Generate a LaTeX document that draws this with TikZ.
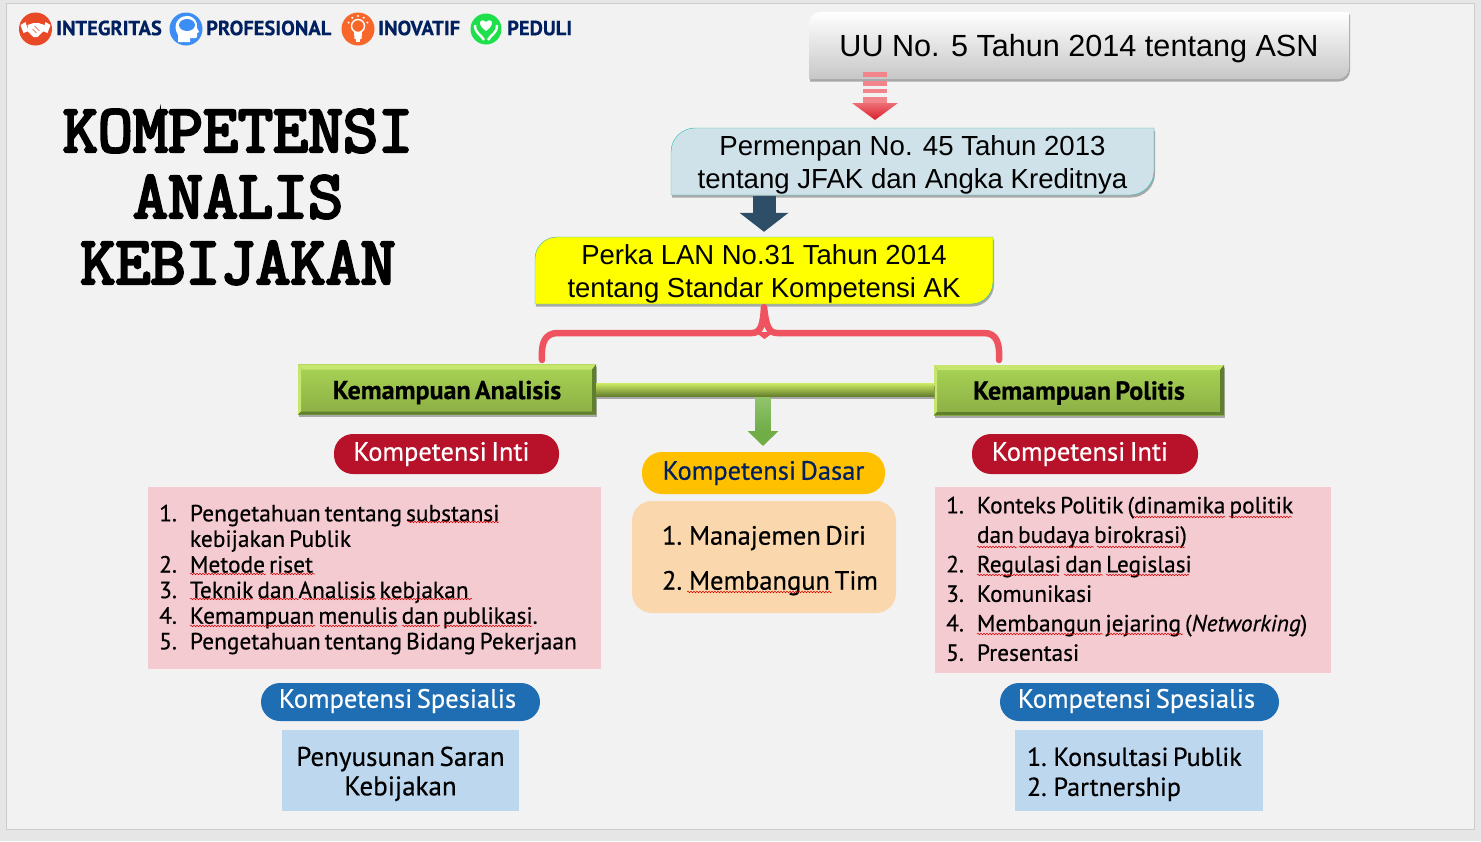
\documentclass[tikz,border=0pt]{standalone}
\usepackage{fontspec}
\setmainfont{PT Sans}[WordSpace=0.65,FakeBold=0.5]
\setmonofont{Latin Modern Mono}[FakeBold=4]
\newfontfamily\arialfont{Liberation Sans}
\usetikzlibrary{positioning,calc,arrows.meta,shadows,decorations.pathmorphing}
\definecolor{slidebg}{HTML}{F2F2F2}
\definecolor{pagebg}{HTML}{E6E6E6}
\definecolor{navy}{HTML}{002060}
\definecolor{tealline}{HTML}{2BBCB4}
\definecolor{pinkbox}{HTML}{F5CBD2}
\definecolor{bluebox}{HTML}{BDD7EE}
\definecolor{peachbox}{HTML}{FAD7AC}
\definecolor{bracered}{HTML}{EF5360}
\definecolor{intired}{HTML}{B8122B}
\definecolor{dasargold}{HTML}{FFC000}
\definecolor{spesblue}{HTML}{1F6DB2}
\definecolor{permenblue}{HTML}{CFE2E9}
\definecolor{perkayellow}{HTML}{FFFF00}
\definecolor{darkarrow}{HTML}{2D4E66}
\definecolor{greenarrow}{HTML}{70AD47}
\definecolor{greenlight}{HTML}{92C46C}
\definecolor{redlight}{HTML}{EE6E76}
\definecolor{reddark}{HTML}{D81E2C}
\definecolor{redstripe}{HTML}{F2848C}
\definecolor{icona}{HTML}{E84A27}
\definecolor{iconb}{HTML}{3C8EF5}
\definecolor{iconc}{HTML}{F7672A}
\definecolor{icond}{HTML}{1EE04A}
\definecolor{kamtop}{HTML}{A9D455}
\definecolor{kambot}{HTML}{8BAE44}
\definecolor{kamhigh}{HTML}{C6E66E}
\definecolor{kamlow}{HTML}{5F7F2E}
\definecolor{barhigh}{HTML}{CDEC64}
\definecolor{barmid}{HTML}{A0C64C}
\definecolor{barlow}{HTML}{627C2C}
\tikzset{softshadow/.style={drop shadow={shadow xshift=1pt,shadow yshift=-2.5pt,opacity=.3,fill=black}}}
\tikzset{diag/.style={softshadow}}
\tikzset{pill/.style={rectangle,rounded corners=19pt,inner sep=0pt,minimum height=40pt,font=\fontsize{26.5}{30}\selectfont}}
\tikzset{listbox/.style={rectangle,fill=pinkbox,inner sep=0pt,anchor=north west,align=flush left,font=\fontsize{23.4}{25.6}\selectfont}}
\tikzset{specbox/.style={rectangle,fill=bluebox,inner sep=0pt,minimum height=81pt,align=center,font=\fontsize{27}{29.5}\selectfont}}
\tikzset{brand/.style={anchor=west,inner sep=0pt,text=navy,font=\fontsize{20.5}{24}\selectfont\bfseries}}
\tikzset{iconcircle/.style={circle,inner sep=0pt,minimum size=33pt}}
\tikzset{wavy/.style={red!85!black,line width=.5pt,decorate,decoration={snake,amplitude=.8pt,segment length=3pt}}}
\tikzset{bevelbox/.style={rectangle,inner sep=0pt,minimum height=50pt,top color=kamtop,bottom color=kambot,softshadow,
    font=\fontsize{26}{32}\selectfont\bfseries,
    path picture={
      \fill[kamhigh] (path picture bounding box.north west) -- (path picture bounding box.north east)
        -- ([xshift=-4pt,yshift=-5pt]path picture bounding box.north east) -- ([xshift=4pt,yshift=-5pt]path picture bounding box.north west) -- cycle;
      \fill[kamhigh] (path picture bounding box.north west) -- (path picture bounding box.south west)
        -- ([xshift=3pt,yshift=3pt]path picture bounding box.south west) -- ([xshift=3pt,yshift=-5pt]path picture bounding box.north west) -- cycle;
      \fill[kamlow] (path picture bounding box.south west) -- (path picture bounding box.south east)
        -- ([xshift=-4pt,yshift=3pt]path picture bounding box.south east) -- ([xshift=3pt,yshift=3pt]path picture bounding box.south west) -- cycle;
      \fill[kamlow] (path picture bounding box.north east) -- (path picture bounding box.south east)
        -- ([xshift=-4pt,yshift=3pt]path picture bounding box.south east) -- ([xshift=-4pt,yshift=-5pt]path picture bounding box.north east) -- cycle;
    }}}
% diagonal box: x1,y1,x2,y2,radius,style
\newcommand{\diagshape}[6]{
  \path[#6] (#1,#4) -- (#1,#2+#5) arc[start angle=180,end angle=90,radius=#5pt] -- (#3,#2) -- (#3,#4-#5)
    arc[start angle=0,end angle=-90,radius=#5pt] -- cycle;
}

\begin{document}
\begin{tikzpicture}[x=1pt,y=-1pt]
  \useasboundingbox (0,0) rectangle (1481,841);
  \fill[pagebg] (0,0) rectangle (1481,841);
  \draw[fill=slidebg,draw=black!20,line width=1pt] (6.5,3.5) rectangle (1474.5,829);

  % Row of values
  \node[iconcircle,fill=icona] (integritas) at (35.5,29) {};
  \node[iconcircle,fill=iconb] (profesional) at (186,29) {};
  \node[iconcircle,fill=iconc] (inovatif) at (358,29) {};
  \node[iconcircle,fill=icond,minimum size=31pt] (peduli) at (486,29) {};
  \node[brand] (txtintegritas) at (56,28) {INTEGRITAS};
  \node[brand] (txtprofesional) at (206,28) {PROFESIONAL};
  \node[brand] (txtinovatif) at (378,28) {INOVATIF};
  \node[brand] (txtpeduli) at (507,28) {PEDULI};

  % Handshake
  \begin{scope}[shift={(integritas)}]
    \fill[white] (-15,-4) -- (-10,-7) -- (-7,2) -- (-12,4) -- cycle;
    \fill[white] (15,-4) -- (10,-7) -- (7,2) -- (12,4) -- cycle;
    \fill[white] (-8,-4) -- (-2,-6) -- (3,-6) -- (9,-4) -- (8,2) -- (2,8) -- (-2,8) -- (-8,2) -- cycle;
    \draw[icona,line width=.6pt] (-1,-3) -- (4,2) (-3,0) -- (1,4);
  \end{scope}
  % Head
  \begin{scope}[shift={(profesional)}]
    \fill[white] (-8,13) -- (-8,6) .. controls (-14,-4) and (-8,-13) .. (1,-13)
      .. controls (9,-13) and (12,-6) .. (11,-1) -- (13,3) -- (11,4) -- (11,8) .. controls (10,10) and (6,9) .. (4,9) -- (4,13) -- cycle;
    \fill[iconb] (1,-4) ellipse (8pt and 6pt);
  \end{scope}
  % Lamp
  \begin{scope}[shift={(inovatif)}]
    \draw[white,line width=1.4pt] (0,-3) circle (6.5pt);
    \fill[white] (-4,3) -- (4,3) -- (3.5,10) -- (-3.5,10) -- cycle;
    \fill[white] (-2,10) rectangle (2,13);
    \foreach \a in {160,125,90,55,20}
      \fill[white] ($(0,-3)+(\a:10pt)$) circle (1.1pt);
  \end{scope}
  % Heart in hands
  \begin{scope}[shift={(peduli)}]
    \fill[white] (0,2) .. controls (-10,-5) and (-6,-12) .. (0,-7) .. controls (6,-12) and (10,-5) .. (0,2);
    \draw[white,line width=2.4pt] (-11,-4) .. controls (-11,5) and (-5,5) .. (-2,11);
    \draw[white,line width=2.4pt] (11,-4) .. controls (11,5) and (5,5) .. (2,11);
  \end{scope}

  % Title
  \node[align=center,inner sep=0pt,font=\fontsize{68}{66}\selectfont\ttfamily\bfseries] (judul) at (238,197)
    {KOMPETENSI\\ANALIS\\KEBIJAKAN};

  % Rule boxes
  \diagshape{809}{12}{1349}{79}{11}{diag,top color=white,bottom color=black!22}
  \node[font=\fontsize{30.6}{37}\selectfont\arialfont,inner sep=0pt,minimum width=540pt,minimum height=61pt] (uu) at (1079,49)
    {UU No. 5 Tahun 2014 tentang ASN};
  \diagshape{671}{128}{1154}{195}{24}{diag,fill=permenblue,draw=tealline}
  \node[font=\fontsize{27.6}{33}\selectfont\arialfont,inner sep=0pt,minimum width=483pt,minimum height=61pt,align=center] (permen) at (912.5,165)
    {Permenpan No. 45 Tahun 2013\\tentang JFAK dan Angka Kreditnya};
  \diagshape{535}{237}{993}{304}{22}{diag,fill=perkayellow,draw=tealline}
  \node[font=\fontsize{27.5}{33}\selectfont\arialfont,inner sep=0pt,minimum width=458pt,minimum height=67pt,align=center] (perka) at (764,273.5)
    {Perka LAN No.31 Tahun 2014\\tentang Standar Kompetensi AK};

  % Red arrow, striped
  \coordinate (redtop) at (875,72);
  \coordinate (redhead) at (875,103);
  \coordinate (redtip) at (875,120);
  \draw[line width=24pt,draw=redstripe,dash pattern=on 5pt off 4pt on 5pt off 3pt on 4pt off 4pt on 7pt off 20pt] (redtop) -- (redhead);
  \shade[top color=redlight,bottom color=reddark]
    ($(redhead)+(-23,0)$) -- ($(redhead)+(23,0)$) -- (redtip) -- cycle;

  % Dark arrow
  \draw[line width=23pt,draw=darkarrow,-{Triangle[width=48pt,length=19pt]},shorten >=8pt] (perka.north |- permen.south) -- (perka.north);

  % Brace under Perka
  \coordinate (braceleft) at (542,360);
  \coordinate (braceright) at (999,360);
  \fill[bracered] (755,332) -- (764.5,339) -- (774,332) -- cycle;
  \draw[draw=bracered,line width=6.5pt,line cap=round,line join=round]
    (braceleft) .. controls (541,344) and (544,333) .. (558,333) -- (752,333) .. controls (761,333) and (763,324) .. (perka.south)
    .. controls (766,324) and (768,333) .. (777,333) -- (984,333) .. controls (997,333) and (1000,344) .. (braceright);

  % Kemampuan and the bar between
  \node[bevelbox,minimum width=298pt] (analisis) at (447,389.5) {\raisebox{-3pt}[\height][\depth]{Kemampuan Analisis}};
  \node[bevelbox,minimum width=290pt] (politis) at (1079,390) {\raisebox{-3pt}[\height][\depth]{Kemampuan Politis}};
  \path[top color=barhigh,middle color=barmid,bottom color=barlow,softshadow]
    ($(analisis.east)+(0,-6.5)$) rectangle ($(politis.west)+(0,6.5)$);

  % Green arrow
  \coordinate (greentop) at (763,397);
  \coordinate (greentip) at (763,446);
  \draw[line width=15pt,draw=greenarrow,-{Triangle[width=30pt,length=15pt]}] (greentop) -- (greentip);
  \shade[top color=greenlight,bottom color=greenarrow]
    ($(greentop)+(-7.5,0)$) rectangle ($(greentop)+(7.5,34)$);

  % Kompetensi headers
  \node[pill,fill=intired,text=white,minimum width=225pt] (intikiri) at (446.5,454) {\hspace*{-10pt}Kompetensi Inti};
  \node[pill,fill=intired,text=white,minimum width=226pt] (intikanan) at (1085,454) {\hspace*{-10pt}Kompetensi Inti};
  \node[pill,fill=dasargold,text=navy,minimum width=243pt,minimum height=42pt,rounded corners=20pt] (dasar) at (763.5,473) {Kompetensi Dasar};
  \node[pill,fill=spesblue,text=white,minimum width=279pt,minimum height=38pt] (spesialiskiri) at (400.5,702) {\raisebox{1pt}[\height][\depth]{\hspace*{-6pt}Kompetensi Spesialis}};
  \node[pill,fill=spesblue,text=white,minimum width=279pt,minimum height=38pt] (spesialiskanan) at (1139.5,702) {\raisebox{1pt}[\height][\depth]{\hspace*{-6pt}Kompetensi Spesialis}};

  % Lists
  \node[listbox,minimum width=453pt,minimum height=182pt,text width=453pt] (listkiri) at (148,487) {\hspace*{11pt}\raisebox{-2pt}[\height][\depth]{\begin{tabular}{@{}l@{\hspace{13pt}}l@{}}
    1. & Pengetahuan tentang substansi\\
       & kebijakan Publik\\
    2. & Metode riset\\
    3. & Teknik dan Analisis kebjakan\\
    4. & Kemampuan menulis dan publikasi.\\
    5. & Pengetahuan tentang Bidang Pekerjaan
  \end{tabular}}};
  \node[listbox,minimum width=396pt,minimum height=186pt,text width=396pt,font=\fontsize{23.4}{29.5}\selectfont] (listkanan) at (935,487) {\hspace*{11pt}\raisebox{-1pt}[\height][\depth]{\begin{tabular}{@{}l@{\hspace{13pt}}l@{}}
    1. & Konteks Politik (dinamika politik\\
       & dan budaya birokrasi)\\
    2. & Regulasi dan Legislasi\\
    3. & Komunikasi\\
    4. & Membangun jejaring (\textit{Networking})\\
    5. & Presentasi
  \end{tabular}}};

  % Dasar box
  \node[rectangle,rounded corners=20pt,fill=peachbox,inner sep=0pt,minimum width=264pt,minimum height=112pt,align=center,
    font=\fontsize{26.5}{45}\selectfont] (dasarlist) at (764,557) {\rule{0pt}{26pt}1. Manajemen Diri\\\hspace*{12pt}2. Membangun Tim};

  % Spesialis boxes
  \node[specbox,minimum width=237pt] (sarankiri) at (400.5,770.5) {\rule{0pt}{26pt}Penyusunan Saran\\Kebijakan};
  \node[specbox,minimum width=248pt,align=flush left,text width=224pt,font=\fontsize{26}{30}\selectfont] (sarankanan) at (1139,770.5) {\rule{0pt}{26pt}1. Konsultasi Publik\\2. Partnership};

  % Spelling marks
  \foreach \xa/\xb/\yy in {408/499/522,190/266/574,270/315/574,190/253/599,259/299/599,302/376/599,380/472/599,
      190/315/626,320/398/626,402/440/626,444/532/626,
      1133/1225/517,1229/1292/517,977/1017/547,1019/1094/547,1097/1185/547,
      977/1059/575,1064/1103/575,1106/1189/575,977/1103/634,1107/1183/634,687/832/592}
    \draw[wavy] (\xa,\yy) -- (\xb,\yy);
\end{tikzpicture}
\end{document}
